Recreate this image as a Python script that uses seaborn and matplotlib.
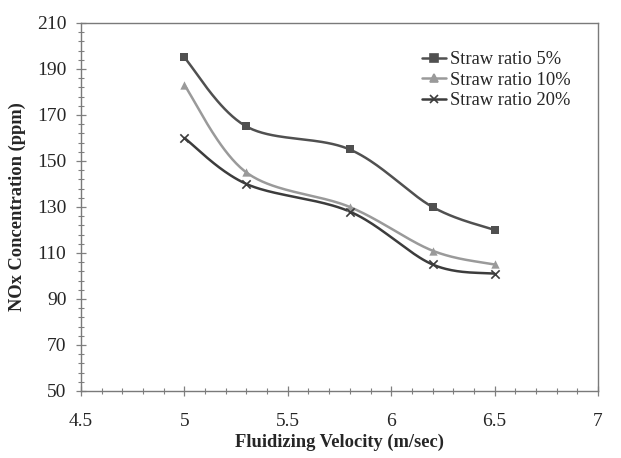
import numpy as np
import pandas as pd
import matplotlib
matplotlib.use("Agg")
import matplotlib.pyplot as plt
import seaborn as sns
from matplotlib.ticker import MultipleLocator, FixedLocator

velocity = [5.0, 5.3, 5.8, 6.2, 6.5]
straw_5 = [195, 165, 155, 130, 120]
straw_10 = [183, 145, 130, 111, 105]
straw_20 = [160, 140, 128, 105, 101]
series_names = ["Straw ratio 5%", "Straw ratio 10%", "Straw ratio 20%"]
y_ticks = [50, 70, 90, 110, 130, 150, 170, 190, 210]
x_ticks = [4.5, 5, 5.5, 6, 6.5, 7]

sns.set_theme(style="white")
plt.rcParams['font.family'] = ['Liberation Serif', 'DejaVu Serif']


def smooth(xs, ys, n=40):
    """Excel-like smoothed line through the points (cubic Bezier, Catmull-Rom tangents)."""
    P = np.column_stack([xs, ys]).astype(float)
    out = []
    m = len(P)
    for i in range(m - 1):
        p0 = P[i - 1] if i > 0 else P[i]
        p1 = P[i]
        p2 = P[i + 1]
        p3 = P[i + 2] if i + 2 < m else P[i + 1]
        c1 = p1 + (p2 - p0) / 6.0
        c2 = p2 - (p3 - p1) / 6.0
        t = np.linspace(0, 1, n, endpoint=(i == m - 2))[:, None]
        seg = ((1 - t) ** 3) * p1 + 3 * ((1 - t) ** 2) * t * c1 + 3 * (1 - t) * t ** 2 * c2 + t ** 3 * p2
        out.append(seg)
    return np.vstack(out)


fig = plt.figure(figsize=(6.21, 4.58), dpi=100)
ax = fig.add_axes([0.1304, 0.1463, 0.8326, 0.8035])

colors = ["#505050", "#9a9a9a", "#3c3c3c"]
markers = ["s", "^", "x"]
for name, vals, c, mk in zip(series_names, [straw_5, straw_10, straw_20], colors, markers):
    curve = smooth(velocity, vals)
    dfc = pd.DataFrame({"x": curve[:, 0], "y": curve[:, 1]})
    sns.lineplot(data=dfc, x="x", y="y", ax=ax, color=c, lw=1.8, sort=False,
                 estimator=None)
    dfp = pd.DataFrame({"x": velocity, "y": vals})
    sns.scatterplot(data=dfp, x="x", y="y", ax=ax, color=c, marker=mk, s=36,
                    linewidth=1.2 if mk == "x" else 0, edgecolor=c if mk != "x" else None,
                    zorder=3)
    ax.plot([], [], color=c, marker=mk, lw=1.8, ms=6, mew=1.2, label=name)

ax.set_xlim(4.5, 7)
ax.set_ylim(50, 210)
ax.xaxis.set_major_locator(FixedLocator(x_ticks))
ax.xaxis.set_minor_locator(MultipleLocator(0.1))
ax.yaxis.set_major_locator(FixedLocator(y_ticks))
ax.yaxis.set_minor_locator(MultipleLocator(4, offset=2))
ax.set_xticklabels([f"{v:g}" for v in x_ticks])
ax.set_yticklabels([str(v) for v in y_ticks])

ax.tick_params(axis="both", which="major", direction="inout", length=7, width=0.9,
               color="#808080", labelsize=14, pad=7, bottom=True, left=True)
ax.tick_params(axis="x", which="major", pad=12)
ax.tick_params(axis="both", which="minor", direction="inout", length=4, width=0.8,
               color="#808080", bottom=True, left=True)
for sp in ax.spines.values():
    sp.set_color("#7a7a7a")
    sp.set_linewidth(1.0)
    sp.set_visible(True)

ax.set_xlabel("Fluidizing Velocity (m/sec)", fontsize=13.3, fontweight="bold", labelpad=3)
ax.set_ylabel("NOx Concentration (ppm)", fontsize=13.3, fontweight="bold", labelpad=8)

leg = ax.legend(loc="upper left", bbox_to_anchor=(0.645, 0.944), frameon=False,
                fontsize=13.3, handlelength=1.3, handletextpad=0.2, labelspacing=0.2,
                borderaxespad=0)

fig.savefig("out.png", dpi=100)
